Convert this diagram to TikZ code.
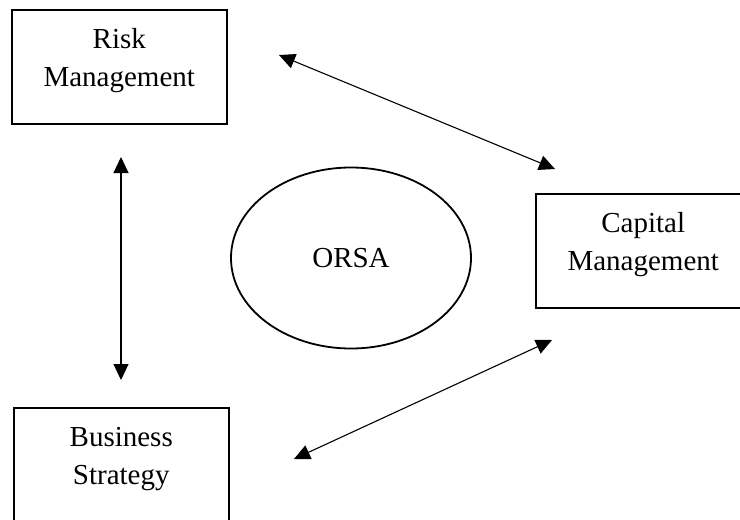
\documentclass[tikz,border=0pt]{standalone}
\usepackage{fontspec}
\setmainfont{Liberation Serif}
\usepackage{xcolor}
\usetikzlibrary{arrows.meta,shapes.geometric}

\begin{document}
\begin{tikzpicture}[x=1pt,y=-1pt,
  box/.style={rectangle,draw,line width=1.5pt,anchor=north west,minimum width=215pt,
    minimum height=114pt,inner sep=0pt,align=center,text depth=18pt,
    font=\fontsize{29}{38}\selectfont},
  oval/.style={ellipse,draw,line width=1.8pt,minimum width=240pt,minimum height=181pt,
    inner sep=0pt,font=\fontsize{29}{38}\selectfont},
  link/.style={line width=1.1pt,{Triangle[length=16pt,width=15pt]}-{Triangle[length=16pt,width=15pt]}}]
\useasboundingbox (0,0) rectangle (740,520);
\node (risk) at (11,9) [box] {Risk\\Management};
\node (capital) at (535,193) [box] {Capital\\Management};
\node (business) at (13,407) [box] {Business\\Strategy};
\node (orsa) at (351,258) [oval] {ORSA};
\coordinate (r1) at (279,55);
\coordinate (c1) at (555,169);
\coordinate (r2) at (121,157);
\coordinate (b2) at (121,380);
\coordinate (b3) at (294,459);
\coordinate (c3) at (552,340);
\draw [link] (r1) -- (c1);
\draw [link] (r2) -- (b2);
\draw [link] (b3) -- (c3);
\end{tikzpicture}
\end{document}
